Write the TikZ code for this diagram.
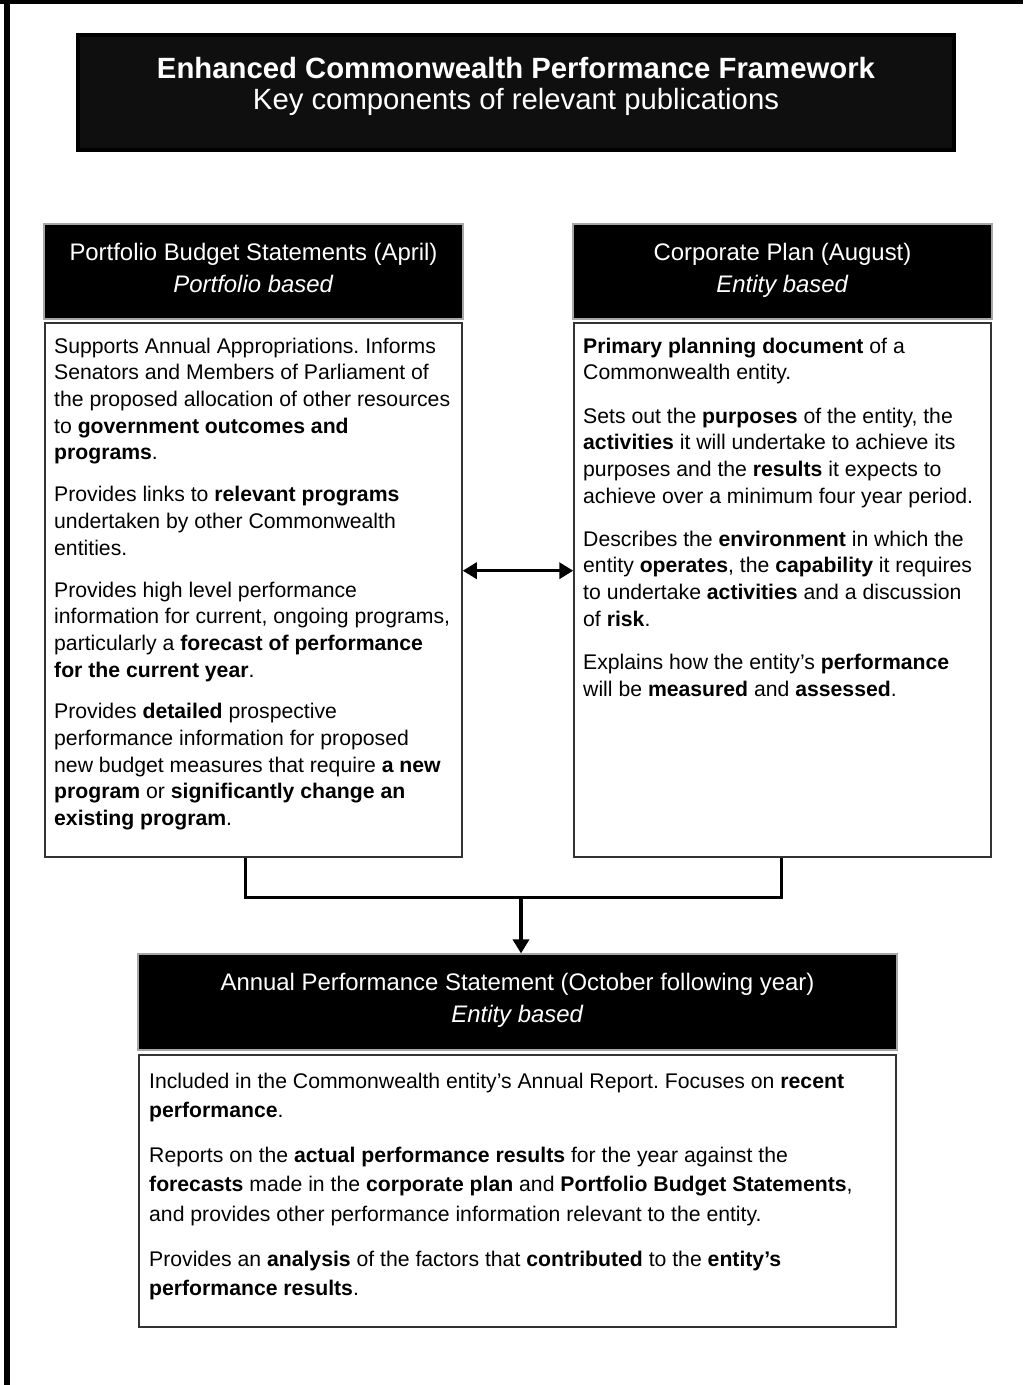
\documentclass[tikz,border=0pt]{standalone}
\usepackage{fontspec}
\setmainfont{Liberation Sans}
\usetikzlibrary{arrows.meta}
\frenchspacing
\newcommand{\panelbody}[4]{\begin{minipage}[c][#1][t]{#2}\vspace*{#3}#4\end{minipage}}

\begin{document}
\begin{tikzpicture}[x=0.5pt,y=-0.5pt,>={Triangle[length=7pt,width=8pt]},
banner/.style={fill=black,draw=black!35,line width=.6pt,text=white,inner sep=0pt,
  font=\fontsize{11.95pt}{16pt}\selectfont},
panel/.style={fill=white,draw=black!80,line width=.75pt,inner sep=0pt,
  font=\fontsize{10.6pt}{13.33pt}\selectfont},
link/.style={line width=1.7pt}]
\useasboundingbox (0,0) rectangle (1023,1385);
\draw[line width=2pt] (0,2) -- (1023,2);
\draw[line width=3pt] (7,0) -- (7,1385);

\node[banner,fill=black!94,draw=black,line width=2pt,font=\fontsize{14.65pt}{15.5pt}\selectfont] (title) at (516,92.5)
{\panelbody{57.5pt}{438pt}{11.2pt}{\centering\textbf{Enhanced Commonwealth Performance Framework}\\Key components of relevant publications}};

\node[banner] (pbshead) at (253.5,271.5)
{\panelbody{47.5pt}{209.5pt}{9.6pt}{\centering Portfolio Budget Statements (April)\\\textit{Portfolio based}}};
\node[banner] (cphead) at (782.5,271.5)
{\panelbody{47.5pt}{209.5pt}{9.6pt}{\centering Corporate Plan (August)\\\textit{Entity based}}};

\node[panel] (pbsbody) at (253.5,590)
{\panelbody{267pt}{208.5pt}{7.4pt}{\raggedright\leftskip=4.6pt
Supports Annual Appropriations. Informs\\
Senators and Members of Parliament of\\
the proposed allocation of other resources\\
to \textbf{government outcomes and}\\
\textbf{programs}.\\[7.65pt]
Provides links to \textbf{relevant programs}\\
undertaken by other Commonwealth\\
entities.\\[7.65pt]
Provides high level performance\\
information for current, ongoing programs,\\
particularly a \textbf{forecast of performance}\\
\textbf{for the current year}.\\[7.65pt]
Provides \textbf{detailed} prospective\\
performance information for proposed\\
new budget measures that require \textbf{a new}\\
\textbf{program} or \textbf{significantly change an}\\
\textbf{existing program}.}};

\node[panel] (cpbody) at (782.5,590)
{\panelbody{267pt}{208.5pt}{7.4pt}{\raggedright\leftskip=4.6pt
\textbf{Primary planning document} of a\\
Commonwealth entity.\\[8.3pt]
Sets out the \textbf{purposes} of the entity, the\\
\textbf{activities} it will undertake to achieve its\\
purposes and the \textbf{results} it expects to\\
achieve over a minimum four year period.\\[8.3pt]
Describes the \textbf{environment} in which the\\
entity \textbf{operates}, the \textbf{capability} it requires\\
to undertake \textbf{activities} and a discussion\\
of \textbf{risk}.\\[8.3pt]
Explains how the entity’s \textbf{performance}\\
will be \textbf{measured} and \textbf{assessed}.}};

\node[banner] (apshead) at (517.5,1002)
{\panelbody{48pt}{379.5pt}{9.6pt}{\centering Annual Performance Statement (October following year)\\\textit{Entity based}}};

\node[panel,font=\fontsize{10.6pt}{14.65pt}\selectfont] (apsbody) at (517.5,1191)
{\panelbody{136pt}{378.5pt}{8.9pt}{\raggedright\leftskip=5.1pt
Included in the Commonwealth entity’s Annual Report. Focuses on \textbf{recent}\\
\textbf{performance}.\\[7.85pt]
Reports on the \textbf{actual performance results} for the year against the\\
\textbf{forecasts} made in the \textbf{corporate plan} and \textbf{Portfolio Budget Statements},\\
and provides other performance information relevant to the entity.\\[7.85pt]
Provides an \textbf{analysis} of the factors that \textbf{contributed} to the \textbf{entity’s}\\
\textbf{performance results}.}};

\coordinate (join) at (521,897.7);
\draw[link,<->] ([yshift=9.65pt]pbsbody.east) -- ([yshift=9.65pt]cpbody.west);
\draw[link] ([xshift=-3.9pt]pbsbody.south) |- (join) -| ([xshift=-.4pt]cpbody.south);
\draw[link,->] (join) -- (join |- apshead.north);
\end{tikzpicture}
\end{document}
